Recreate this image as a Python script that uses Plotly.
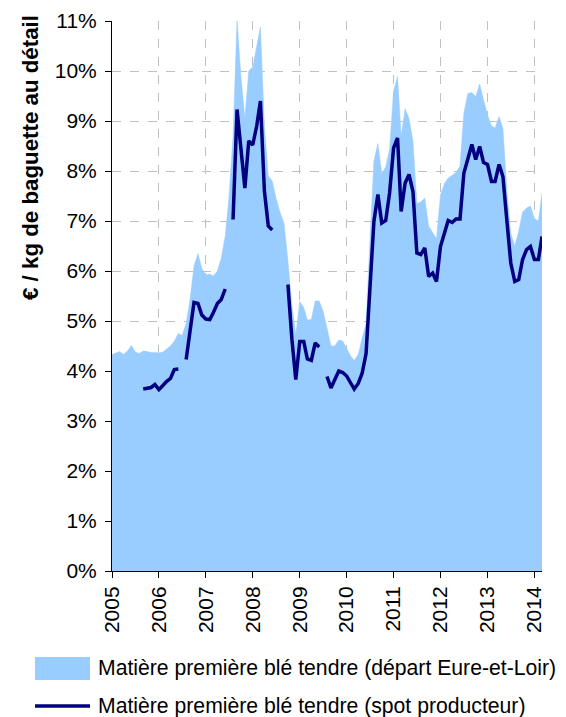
import plotly.graph_objects as go
import pandas as pd

# ---- data (monthly, Jan 2005 - Mar 2014), values in % ----
months = pd.date_range("2005-01-01", "2014-03-01", freq="MS")

depart_eure_et_loir = [
    4.33, 4.36, 4.39, 4.33, 4.40, 4.51, 4.38, 4.35, 4.40, 4.39,
    4.37, 4.37, 4.36, 4.38, 4.43, 4.50, 4.60, 4.75, 4.71, 4.95,
    5.45, 6.10, 6.35, 6.05, 5.92, 5.94, 5.90, 6.00, 6.25, 6.70,
    7.50, 8.70, 11.03, 9.90, 9.06, 10.00, 10.08, 10.48, 10.88, 8.90,
    7.90, 7.80, 7.45, 7.17, 6.95, 6.20, 5.30, 4.72, 5.39, 5.27,
    5.02, 5.03, 5.40, 5.40, 5.20, 4.86, 4.50, 4.50, 4.62, 4.60,
    4.45, 4.30, 4.21, 4.33, 4.65, 4.95, 6.60, 8.20, 8.55, 7.95,
    8.08, 8.45, 9.60, 9.89, 8.70, 9.25, 9.05, 8.60, 7.35, 7.38,
    7.46, 6.90, 6.77, 6.65, 7.52, 7.75, 7.86, 7.92, 7.97, 8.10,
    9.16, 9.55, 9.57, 9.49, 9.74, 9.43, 9.12, 8.90, 8.86, 9.09,
    8.85, 7.60, 6.75, 6.50, 6.80, 7.18, 7.26, 7.30, 7.05, 7.00, 7.56,
]

spot_producteur = (
    [None] * 8
    + [3.64, 3.65, 3.67, 3.73, 3.63, 3.71, 3.79, 3.85, 4.03, 4.04]
    + [None]
    + [4.23, 4.80, 5.37, 5.35, 5.12, 5.04, 5.03, 5.17, 5.35, 5.43, 5.64]
    + [None]
    + [7.03, 9.23, 8.45, 7.66, 8.60, 8.52, 8.90, 9.40, 7.60, 6.90, 6.82]
    + [None] * 3
    + [5.73, 4.63, 3.83, 4.59, 4.59, 4.24, 4.21, 4.56, 4.48]
    + [None]
    + [3.89, 3.66, 3.83, 4.00, 3.97, 3.90, 3.76, 3.64, 3.75, 3.95, 4.35]
    + [5.70, 6.99, 7.53, 6.96, 7.01, 7.56, 8.46, 8.66, 7.19, 7.76,
       7.93, 7.59, 6.36, 6.33, 6.46, 5.89, 5.96, 5.79, 6.49, 6.73,
       7.01, 6.97, 7.04, 7.04, 7.96, 8.24, 8.53, 8.23, 8.49, 8.17,
       8.13, 7.79, 7.79, 8.13, 7.89, 7.00, 6.16, 5.79, 5.83, 6.23,
       6.43, 6.49, 6.23, 6.23, 6.69]
)

y_ticks = list(range(0, 12))
y_title = "€ / kg de baguette au détail"
legend_labels = [
    "Matière première blé tendre (départ Eure-et-Loir)",
    "Matière première blé tendre (spot producteur)",
]

AREA_COLOR = "#99CCFF"
LINE_COLOR = "#000080"
FONT = "Arial, Liberation Sans, sans-serif"

# the page body has an 8px margin: the figure is drawn from (8, 8)
OFF = 8
WIN_W, WIN_H = 566, 717
W, H = WIN_W - OFF, WIN_H - OFF
# plot area in window pixels
PL, PR, PT, PB = 112, 542, 21, 571
ML, MT = PL - OFF, PT - OFF
MR, MB = WIN_W - PR, WIN_H - PB


def px(x):
    return (x - PL) / (PR - PL)


def py(y):
    return (PB - y) / (PB - PT)


fig = go.Figure()
fig.add_trace(go.Scatter(
    x=months, y=depart_eure_et_loir, mode="lines", fill="tozeroy",
    fillcolor=AREA_COLOR, line=dict(color=AREA_COLOR, width=0.5),
    name=legend_labels[0], showlegend=False, hoverinfo="skip",
))
fig.add_trace(go.Scatter(
    x=months, y=spot_producteur, mode="lines", connectgaps=False,
    line=dict(color=LINE_COLOR, width=3.5), name=legend_labels[1],
    showlegend=False,
))

fig.update_layout(
    width=W, height=H,
    margin=dict(l=ML, r=MR, t=MT, b=MB, pad=0, autoexpand=False),
    paper_bgcolor="white", plot_bgcolor="white",
    font=dict(family=FONT, size=21, color="black"),
    showlegend=False,
)

fig.update_xaxes(
    type="date", range=[months[0], months[-1]],
    tick0="2005-01-01", dtick="M12", tickformat="%Y", tickangle=-90,
    ticks="outside", ticklen=6, tickcolor="black", tickwidth=1,
    showline=True, linecolor="black", linewidth=1,
    showgrid=True, gridcolor="#C0C0C0", griddash="dash", gridwidth=1,
    zeroline=False, tickfont=dict(size=21),
)
fig.update_yaxes(
    range=[0, 11], tickvals=y_ticks, ticktext=[f"{v}%" for v in y_ticks],
    ticks="outside", ticklen=6, tickcolor="black", tickwidth=1,
    showline=True, linecolor="black", linewidth=1,
    showgrid=True, gridcolor="#C0C0C0", griddash="dash", gridwidth=1,
    zeroline=False, tickfont=dict(size=21), ticklabelstandoff=4,
)

# y-axis title
fig.add_annotation(
    text=f"<b>{y_title}</b>", xref="paper", yref="paper",
    x=px(30), y=py(158), textangle=-90, showarrow=False,
    xanchor="center", yanchor="middle", font=dict(size=22.3),
)

# manual legend
fig.add_shape(type="rect", xref="paper", yref="paper",
              x0=px(35), x1=px(90), y0=py(680), y1=py(657),
              fillcolor=AREA_COLOR, line=dict(width=0))
fig.add_shape(type="line", xref="paper", yref="paper",
              x0=px(35), x1=px(90), y0=py(706), y1=py(706),
              line=dict(color=LINE_COLOR, width=3.5))
fig.add_annotation(text=legend_labels[0], xref="paper", yref="paper",
                   x=px(96), y=py(668), xanchor="left", yanchor="middle",
                   showarrow=False, font=dict(size=21.2))
fig.add_annotation(text=legend_labels[1], xref="paper", yref="paper",
                   x=px(96), y=py(706), xanchor="left", yanchor="middle",
                   showarrow=False, font=dict(size=21.2))

fig.write_html("out.html")
